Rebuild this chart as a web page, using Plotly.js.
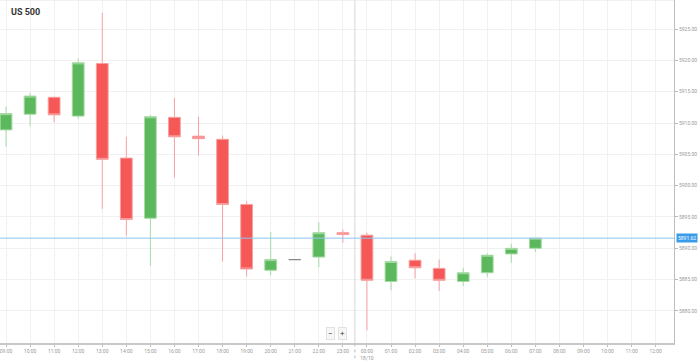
<!DOCTYPE html>
<html>
<head>
<meta charset="utf-8">
<script src="https://cdn.plot.ly/plotly-3.0.1.min.js"></script>
<style>html,body{margin:0;padding:0;background:#fff;}#chart{width:699px;height:361px;}</style>
</head>
<body>
<div id="chart"></div>
<script>
const times = ["2024-10-17 09:00","2024-10-17 10:00","2024-10-17 11:00","2024-10-17 12:00","2024-10-17 13:00","2024-10-17 14:00","2024-10-17 15:00","2024-10-17 16:00","2024-10-17 17:00","2024-10-17 18:00","2024-10-17 19:00","2024-10-17 20:00","2024-10-17 21:00","2024-10-17 22:00","2024-10-17 23:00","2024-10-18 00:00","2024-10-18 01:00","2024-10-18 02:00","2024-10-18 03:00","2024-10-18 04:00","2024-10-18 05:00","2024-10-18 06:00","2024-10-18 07:00"];
const openV  = [5908.9,5911.4,5914.1,5911.1,5919.5,5904.4,5894.8,5910.9,5907.9,5907.4,5897.0,5886.5,5888.2,5888.6,5892.5,5892.1,5884.7,5888.1,5886.8,5884.7,5886.1,5889.1,5890.0];
const highV  = [5912.6,5914.8,5914.2,5920.3,5927.6,5907.8,5911.3,5914.0,5911.0,5908.0,5897.5,5892.6,5888.2,5894.2,5893.0,5892.5,5888.7,5889.2,5888.2,5886.9,5889.2,5890.7,5891.62];
const lowV   = [5906.2,5909.5,5910.1,5910.7,5896.3,5892.0,5887.2,5901.3,5904.8,5887.9,5885.5,5885.7,5888.2,5887.0,5890.9,5876.9,5883.3,5885.2,5883.2,5884.0,5885.4,5887.7,5889.4];
const closeV = [5911.5,5914.3,5911.3,5919.6,5904.2,5894.6,5911.0,5907.8,5907.5,5897.0,5886.7,5888.2,5888.2,5892.5,5892.2,5884.9,5887.9,5886.9,5884.9,5886.1,5888.9,5890.0,5891.62];
const currentPrice = 5891.62;
const tickVals = ["2024-10-17 09:00","2024-10-17 10:00","2024-10-17 11:00","2024-10-17 12:00","2024-10-17 13:00","2024-10-17 14:00","2024-10-17 15:00","2024-10-17 16:00","2024-10-17 17:00","2024-10-17 18:00","2024-10-17 19:00","2024-10-17 20:00","2024-10-17 21:00","2024-10-17 22:00","2024-10-17 23:00","2024-10-18 00:00","2024-10-18 01:00","2024-10-18 02:00","2024-10-18 03:00","2024-10-18 04:00","2024-10-18 05:00","2024-10-18 06:00","2024-10-18 07:00","2024-10-18 08:00","2024-10-18 09:00","2024-10-18 10:00","2024-10-18 11:00","2024-10-18 12:00"];
const tickText = ["09:00","10:00","11:00","12:00","13:00","14:00","15:00","16:00","17:00","18:00","19:00","20:00","21:00","22:00","23:00","00:00<br>18/10","01:00","02:00","03:00","04:00","05:00","06:00","07:00","08:00","09:00","10:00","11:00","12:00"];
const yTicks = [5880,5885,5890,5895,5900,5905,5910,5915,5920,5925];

const moving = [], flat = [];
times.forEach((t,i)=>{ (openV[i]===closeV[i] ? flat : moving).push(i); });
const pick = (arr, idx) => idx.map(i=>arr[i]);

const traces = [
  {type:'candlestick', x:pick(times,moving), open:pick(openV,moving), high:pick(highV,moving), low:pick(lowV,moving), close:pick(closeV,moving),
   increasing:{fillcolor:'#5cb85c', line:{color:'#a6dba6', width:1}},
   decreasing:{fillcolor:'#f65858', line:{color:'#f8a0a0', width:1}},
   whiskerwidth:0, hoverinfo:'skip', showlegend:false},
  {type:'candlestick', x:pick(times,flat), open:pick(openV,flat), high:pick(highV,flat), low:pick(lowV,flat), close:pick(closeV,flat),
   increasing:{fillcolor:'#888', line:{color:'#888', width:1}},
   decreasing:{fillcolor:'#888', line:{color:'#888', width:1}},
   whiskerwidth:0, hoverinfo:'skip', showlegend:false}
];

const layout = {
  width:699, height:361,
  margin:{l:0, r:25, t:0, b:18, pad:0},
  paper_bgcolor:'#fff', plot_bgcolor:'#fff',
  font:{family:'Roboto, Arial, sans-serif', size:5, color:'#999'},
  showlegend:false,
  xaxis:{type:'date', range:['2024-10-17 08:45','2024-10-18 12:45:40'],
    rangeslider:{visible:false}, tickmode:'array', tickvals:tickVals, ticktext:tickText,
    ticklabeloverflow:'allow',
    showgrid:true, gridcolor:'#f1f1f1', gridwidth:1,
    showline:true, linecolor:'#c8c8c8', linewidth:2, ticks:'outside', ticklen:2, tickcolor:'#bbb',
    tickfont:{size:5, color:'#999'}, zeroline:false, fixedrange:true},
  yaxis:{side:'right', range:[5874.89,5929.63], tickmode:'array', tickvals:yTicks, tickformat:'.2f',
    ticklabeloverflow:'allow',
    showgrid:true, gridcolor:'#f1f1f1', gridwidth:1,
    showline:true, linecolor:'#bdbdbd', linewidth:1, ticks:'outside', ticklen:3, tickcolor:'#bbb',
    tickfont:{size:5, color:'#999'}, zeroline:false, fixedrange:true},
  shapes:[
    {type:'line', xref:'x', yref:'paper', x0:'2024-10-17 23:30', x1:'2024-10-17 23:30', y0:0, y1:1, line:{color:'#d6d6d6', width:1}},
    {type:'line', xref:'x', yref:'paper', x0:'2024-10-17 23:30', x1:'2024-10-17 23:30', y0:-0.045, y1:0, line:{color:'#bbb', width:1, dash:'dot'}},
    {type:'line', xref:'paper', yref:'y', x0:0, x1:1, y0:currentPrice, y1:currentPrice, line:{color:'#8ec5ef', width:1}},
    {type:'line', xref:'paper', yref:'paper', x0:0, x1:1, y0:1, y1:1, line:{color:'#e6e6e6', width:1}}
  ],
  annotations:[
    {text:'<b>US 500</b>', xref:'paper', yref:'paper', x:0.014, y:0.985, xanchor:'left', yanchor:'top', showarrow:false,
     font:{family:'Roboto, Arial, sans-serif', size:9, color:'#333'}},
    {text:currentPrice.toFixed(2), xref:'paper', yref:'y', x:1, y:currentPrice, xanchor:'left', yanchor:'middle', xshift:2, showarrow:false,
     bgcolor:'#3a9ce8', borderpad:1, font:{size:5, color:'#fff'}},
    {text:'−', xref:'paper', yref:'paper', x:0.4905, y:0.028, xanchor:'center', yanchor:'middle', showarrow:false,
     bgcolor:'#f6f6f6', bordercolor:'#e2e2e2', borderwidth:1, borderpad:1, font:{size:8, color:'#444'}},
    {text:'+', xref:'paper', yref:'paper', x:0.5085, y:0.028, xanchor:'center', yanchor:'middle', showarrow:false,
     bgcolor:'#f6f6f6', bordercolor:'#e2e2e2', borderwidth:1, borderpad:1, font:{size:8, color:'#444'}}
  ]
};

Plotly.newPlot('chart', traces, layout, {displayModeBar:false, staticPlot:true});
</script>
</body>
</html>
